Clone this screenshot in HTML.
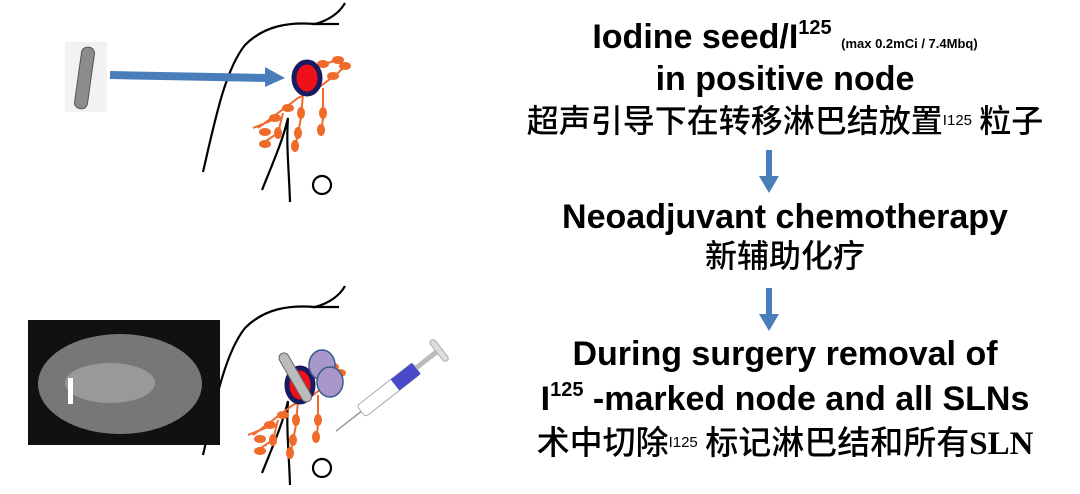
<!DOCTYPE html>
<html><head><meta charset="utf-8"><style>
body{margin:0;width:1080px;height:494px;background:#fff;position:relative;overflow:hidden;font-family:"Liberation Sans","Noto Sans CJK SC",sans-serif;}
.t{position:absolute;left:785px;transform:translateX(-50%);white-space:nowrap;font-weight:bold;color:#000;line-height:1;}
.e{font-size:34px;}
.c{font-size:32px;font-weight:500;font-family:"Noto Sans CJK SC","WenQuanYi Zen Hei",sans-serif;}
sup{font-size:20px;vertical-align:top;position:relative;top:-2px;}
.s{font-size:13px;vertical-align:baseline;}
.cs{font-family:"Liberation Sans",sans-serif;font-size:15px;font-weight:normal;vertical-align:7px;}
</style></head><body>
<svg width="1080" height="494" style="position:absolute;left:0;top:0">
<defs>
<g id="lym" fill="#f06a2a" stroke="#f06a2a" stroke-width="2">
 <path d="M-45 40 L-25 25 L-5 10 L15 0 L35 -15 L45 -25 M-50 40 L-30 32 M0 5 L-2 30 L-8 60 M20 0 L20 30 L18 45 M-20 25 L-25 45 L-40 55 M5 -20 L25 -25 L40 -30" fill="none"/>
 <ellipse cx="-38" cy="44" rx="5" ry="3"/><ellipse cx="-28" cy="30" rx="5" ry="3"/><ellipse cx="-15" cy="20" rx="5" ry="3"/>
 <ellipse cx="30" cy="-12" rx="5" ry="3"/><ellipse cx="42" cy="-22" rx="5" ry="3"/><ellipse cx="20" cy="-24" rx="5" ry="3"/><ellipse cx="35" cy="-28" rx="5" ry="3"/>
 <ellipse cx="-2" cy="25" rx="3" ry="5"/><ellipse cx="-5" cy="45" rx="3" ry="5"/><ellipse cx="-8" cy="58" rx="3" ry="5"/>
 <ellipse cx="20" cy="25" rx="3" ry="5"/><ellipse cx="18" cy="42" rx="3" ry="5"/>
 <ellipse cx="-25" cy="45" rx="3" ry="5"/><ellipse cx="-38" cy="56" rx="5" ry="3"/>
</g>
<g id="body" fill="none" stroke="#000" stroke-width="2.2">
 <path d="M203 172 C215 120 225 70 245 45 C265 25 290 22 315 24 C330 20 340 12 345 3"/>
 <path d="M312 24 L339 24"/>
 <path d="M262 190 C272 165 283 140 288 118 C286 145 289 170 290 202"/>
 <circle cx="322" cy="185" r="9"/>
</g>
</defs>
<use href="#body"/>
<g transform="translate(303,88)"><use href="#lym"/></g>
<ellipse cx="307" cy="78" rx="13" ry="16" fill="#f0101a" stroke="#1a1a60" stroke-width="5"/>
<line x1="110" y1="75" x2="268" y2="78" stroke="#4a7ebb" stroke-width="8"/>
<polygon points="265,67 285,78 265,87" fill="#4a7ebb"/>
<rect x="65" y="42" width="42" height="70" fill="#f2f2f2"/>
<rect x="78" y="47" width="13" height="62" rx="6" fill="#8c8c8c" stroke="#555" transform="rotate(8 85 78)"/>
<g transform="translate(0,283)"><use href="#body"/></g>
<g transform="translate(298,395)"><use href="#lym"/></g>
<ellipse cx="300" cy="385" rx="13" ry="17" fill="#f0101a" stroke="#1a1a60" stroke-width="5"/>
<ellipse cx="322" cy="365" rx="13" ry="15" fill="#a897c8" stroke="#3a5a90" stroke-width="1.5"/>
<ellipse cx="330" cy="382" rx="13" ry="15" fill="#a897c8" stroke="#3a5a90" stroke-width="1.5"/>
<rect x="290" y="350" width="10" height="55" rx="5" fill="#bbb" stroke="#666" transform="rotate(-30 295 377)"/>
<rect x="28" y="320" width="192" height="125" fill="#111"/>
<ellipse cx="120" cy="384" rx="82" ry="50" fill="#777"/>
<ellipse cx="110" cy="383" rx="45" ry="20" fill="#999"/>
<rect x="68" y="378" width="5" height="26" fill="#fff"/>
<g transform="rotate(-38 395 385)">
 <line x1="320" y1="385" x2="352" y2="385" stroke="#999" stroke-width="1.5"/>
 <rect x="352" y="378" width="70" height="14" rx="3" fill="#fff" stroke="#aaa"/>
 <rect x="395" y="378" width="27" height="14" fill="#4a4ac8"/>
 <rect x="422" y="382" width="28" height="5" fill="#bbb"/>
 <rect x="448" y="372" width="6" height="26" rx="3" fill="#ddd" stroke="#aaa"/>
</g>
</svg>
<div class="t e" style="top:20px">Iodine seed/I<sup>125</sup> <span class="s">(max 0.2mCi / 7.4Mbq)</span></div>
<div class="t e" style="top:62px">in positive node</div>
<div class="t c" style="top:103px">超声引导下在转移淋巴结放置<span class="cs">I125</span> 粒子</div>
<svg width="20" height="46" style="position:absolute;left:759px;top:150px"><rect x="7" y="0" width="6" height="28" fill="#4a7ebb"/><polygon points="0,26 20,26 10,43" fill="#4a7ebb"/></svg>
<div class="t e" style="top:200px">Neoadjuvant chemotherapy</div>
<div class="t c" style="top:238px">新辅助化疗</div>
<svg width="20" height="46" style="position:absolute;left:759px;top:288px"><rect x="7" y="0" width="6" height="28" fill="#4a7ebb"/><polygon points="0,26 20,26 10,43" fill="#4a7ebb"/></svg>
<div class="t e" style="top:337px">During surgery removal of</div>
<div class="t e" style="top:382px">I<sup>125</sup> -marked node and all SLNs</div>
<div class="t c" style="top:424px;font-size:33px">术中切除<span class="cs">I125</span> 标记淋巴结和所有<span style="font-family:'Liberation Serif',serif;font-weight:bold">SLN</span></div>
</body></html>
